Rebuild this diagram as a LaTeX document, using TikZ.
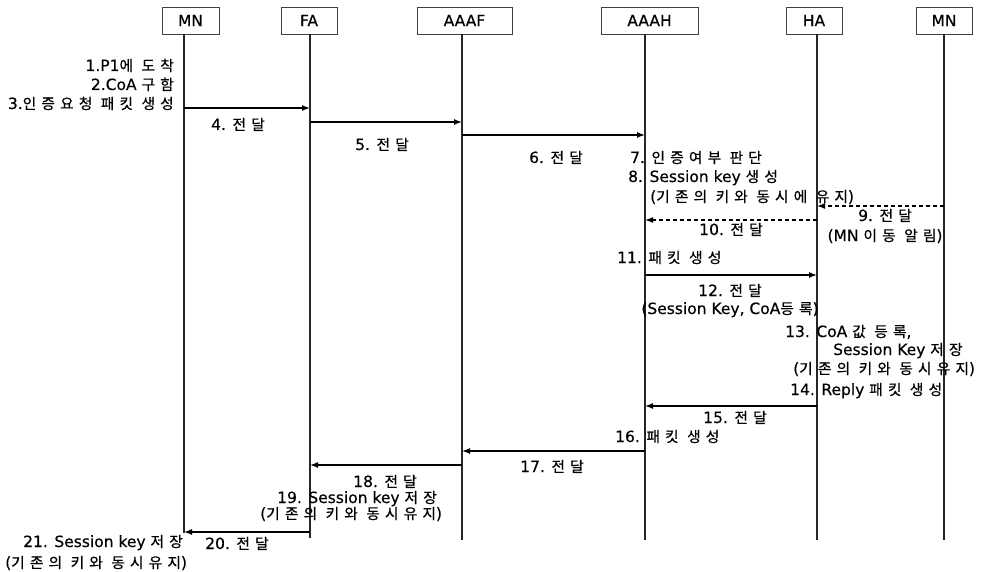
\documentclass[tikz,border=0pt]{standalone}
\usepackage{fontspec}
\setmainfont{DejaVu Sans}[FakeBold=0.4]
\newfontfamily\krfont[Scale=0.95,LetterSpace=35,FakeBold=0.6]{Noto Sans CJK KR}
\newcommand\KO[1]{{\krfont #1}}
\usetikzlibrary{arrows.meta}
\begin{document}
\begin{tikzpicture}[x=1pt,y=-1pt,
  font=\fontsize{15.5}{18}\selectfont,
  actor/.style={draw=black!75, line width=0.8pt, minimum height=27pt, inner sep=0pt},
  life/.style={line width=1.2pt, black!85},
  msg/.style={line width=1.4pt, -{Latex[length=8pt,width=6pt]}},
  dmsg/.style={msg, dash pattern=on 4pt off 3pt},
  lbl/.style={inner sep=0pt}]
\useasboundingbox (0,0) rectangle (984,572);

% actor boxes
\node[actor, minimum width=57pt] (b1) at (190.5,20.5) {MN};
\node[actor, minimum width=56pt] (b2) at (309,20.5) {FA};
\node[actor, minimum width=95pt] (b3) at (464.5,20.5) {AAAF};
\node[actor, minimum width=97pt] (b4) at (649.5,20.5) {AAAH};
\node[actor, minimum width=56pt] (b5) at (814,20.5) {HA};
\node[actor, minimum width=56pt] (b6) at (944,20.5) {MN};

% lifelines
\coordinate (L1) at (184,34);  \coordinate (E1) at (184,533);
\coordinate (L2) at (310,34);  \coordinate (E2) at (310,538);
\coordinate (L3) at (462,34);  \coordinate (E3) at (462,540);
\coordinate (L4) at (645,34);  \coordinate (E4) at (645,540);
\coordinate (L5) at (817,34);  \coordinate (E5) at (817,540);
\coordinate (L6) at (944,34);  \coordinate (E6) at (944,540);
\foreach \i in {1,...,6} \draw[life] (L\i) -- (E\i);

% message rows
\coordinate (r4) at (0,108);
\coordinate (r5) at (0,122);
\coordinate (r6) at (0,135);
\coordinate (r9) at (0,206);
\coordinate (r10) at (0,220);
\coordinate (r11) at (0,275);
\coordinate (r15) at (0,406);
\coordinate (r17) at (0,451);
\coordinate (r18) at (0,465);
\coordinate (r20) at (0,532);

\draw[msg] (L1 |- r4) -- (L2 |- r4);
\draw[msg] (L2 |- r5) -- (L3 |- r5);
\draw[msg] (L3 |- r6) -- (L4 |- r6);
\draw[dmsg] (L6 |- r9) -- (L5 |- r9);
\draw[dmsg] (L5 |- r10) -- (L4 |- r10);
\draw[msg] (L4 |- r11) -- (L5 |- r11);
\draw[msg] (L5 |- r15) -- (L4 |- r15);
\draw[msg] (L4 |- r17) -- (L3 |- r17);
\draw[msg] (L3 |- r18) -- (L2 |- r18);
\draw[msg] (L2 |- r20) -- (L1 |- r20);

% texts
\node[lbl, anchor=base east] (t1) at (174,71) {1.P1\KO{에 도착}};
\node[lbl, anchor=base east] (t2) at (174,90) {2.CoA \KO{구함}};
\node[lbl, anchor=base east] (t3) at (174,109) {3.\KO{인증요청 패킷 생성}};
\node[lbl, anchor=base] (t4) at (238,130) {4. \KO{전달}};
\node[lbl, anchor=base] (t5) at (382,150) {5. \KO{전달}};
\node[lbl, anchor=base] (t6) at (556,163) {6. \KO{전달}};
\node[lbl, anchor=base west] (t7) at (630,163) {7. \KO{인증여부 판단}};
\node[lbl, anchor=base west] (t8) at (628,182) {8. Session key \KO{생성}};
\node[lbl, anchor=base west] (t8b) at (650,202) {(\KO{기존의 키와 동시에 유지})};
\node[lbl, anchor=base] (t9) at (885,221) {9. \KO{전달}};
\node[lbl, anchor=base] (t9b) at (885,241) {(MN \KO{이동 알림})};
\node[lbl, anchor=base] (t10) at (731,235) {10. \KO{전달}};
\node[lbl, anchor=base west] (t11) at (617,263) {11. \KO{패킷 생성}};
\node[lbl, anchor=base] (t12) at (730,296) {12. \KO{전달}};
\node[lbl, anchor=base] (t12b) at (730,314) {(Session Key, CoA\KO{등록})};
\node[lbl, anchor=base west] (t13) at (785,337) {13. CoA \KO{값 등록},};
\node[lbl, anchor=base west] (t13b) at (833,355) {Session Key \KO{저장}};
\node[lbl, anchor=base west] (t13c) at (793,374) {(\KO{기존의 키와 동시유지})};
\node[lbl, anchor=base west] (t14) at (790,395) {14. Reply \KO{패킷 생성}};
\node[lbl, anchor=base] (t15) at (735,423) {15. \KO{전달}};
\node[lbl, anchor=base west] (t16) at (615,442) {16. \KO{패킷 생성}};
\node[lbl, anchor=base] (t17) at (552,472) {17. \KO{전달}};
\node[lbl, anchor=base] (t18) at (385,487) {18. \KO{전달}};
\node[lbl, anchor=base west] (t19) at (277,503) {19. Session key \KO{저장}};
\node[lbl, anchor=base west] (t19b) at (260,519) {(\KO{기존의 키와 동시유지})};
\node[lbl, anchor=base] (t20) at (237,549) {20. \KO{전달}};
\node[lbl, anchor=base east] (t21) at (183,547) {21. Session key \KO{저장}};
\node[lbl, anchor=base west] (t21b) at (5,568) {(\KO{기존의 키와 동시유지})};
\end{tikzpicture}
\end{document}
